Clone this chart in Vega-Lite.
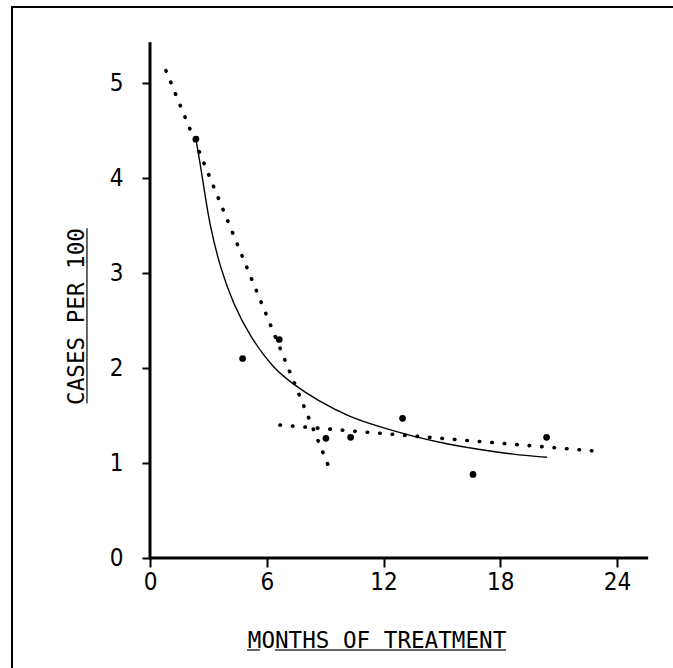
{
  "$schema": "https://vega.github.io/schema/vega-lite/v6.json",
  "width": 690,
  "height": 690,
  "autosize": {"type": "none"},
  "padding": {"left": 12, "top": 7, "right": -29, "bottom": -29},
  "background": "white",
  "config": {
    "view": {"stroke": "black", "strokeWidth": 2, "fill": "white"},
    "axis": {
      "labelFont": "DejaVu Sans Condensed, DejaVu Sans Mono, sans-serif",
      "labelColor": "black",
      "titleFont": "DejaVu Sans Mono",
      "titleColor": "black",
      "titleFontWeight": "normal",
      "tickColor": "black",
      "grid": false,
      "domain": false,
      "labelFlush": false,
      "labelOverlap": false
    }
  },
  "datasets": {
    "axes": [
      {"x": 0, "x2": 25.6, "y": 0, "y2": 0},
      {"x": 0, "x2": 0, "y": 0, "y2": 5.43}
    ],
    "underlines": [
      {"x": 4.985, "x2": 5.65, "y": -0.968, "y2": -0.968},
      {"x": 6.42, "x2": 18.3, "y": -0.968, "y2": -0.968},
      {"x": -3.24, "x2": -3.24, "y": 1.63, "y2": 3.47}
    ],
    "curve": [
      {"x": 2.36, "y": 4.41},
      {"x": 2.57, "y": 4.16},
      {"x": 2.83, "y": 3.82},
      {"x": 3.08, "y": 3.5},
      {"x": 3.6, "y": 3.06},
      {"x": 4.27, "y": 2.68},
      {"x": 5.14, "y": 2.33},
      {"x": 6.32, "y": 2.0},
      {"x": 7.35, "y": 1.83},
      {"x": 8.58, "y": 1.66},
      {"x": 10.28, "y": 1.48},
      {"x": 11.82, "y": 1.38},
      {"x": 13.51, "y": 1.28},
      {"x": 15.26, "y": 1.2},
      {"x": 16.96, "y": 1.14},
      {"x": 18.65, "y": 1.09},
      {"x": 20.4, "y": 1.06}
    ],
    "dotted": [
      {"series": "a", "x": 0.82, "y": 5.13},
      {"series": "a", "x": 9.25, "y": 0.93},
      {"series": "b", "x": 6.68, "y": 1.4},
      {"series": "b", "x": 22.87, "y": 1.126}
    ],
    "points": [
      {"x": 2.36, "y": 4.41},
      {"x": 4.76, "y": 2.1},
      {"x": 6.64, "y": 2.3},
      {"x": 9.04, "y": 1.26},
      {"x": 10.31, "y": 1.27},
      {"x": 12.98, "y": 1.47},
      {"x": 16.6, "y": 0.88},
      {"x": 20.38, "y": 1.27}
    ]
  },
  "encoding": {
    "x": {
      "field": "x",
      "type": "quantitative",
      "scale": {"domain": [-7.092, 28.368], "nice": false, "zero": false},
      "axis": {
        "values": [0, 6, 12, 18, 24],
        "offset": -139,
        "tickSize": 9,
        "tickWidth": 2,
        "labelFontSize": 24,
        "labelPadding": 3,
        "title": "MONTHS OF TREATMENT",
        "titleFontSize": 22.6,
        "titleX": 364.5,
        "titleY": 89,
        "titleAlign": "center",
        "titleBaseline": "alphabetic"
      }
    },
    "y": {
      "field": "y",
      "type": "quantitative",
      "scale": {"domain": [-1.463, 5.8], "nice": false, "zero": false},
      "axis": {
        "values": [0, 1, 2, 3, 4, 5],
        "offset": -138,
        "tickSize": 8,
        "tickWidth": 2,
        "labelFontSize": 24,
        "labelPadding": 19,
        "title": "CASES PER 100",
        "titleFontSize": 22.6,
        "titleAngle": -90,
        "titleX": -67,
        "titleY": 309,
        "titleAlign": "center",
        "titleBaseline": "alphabetic"
      }
    }
  },
  "layer": [
    {
      "data": {"name": "axes"},
      "mark": {"type": "rule", "color": "black", "strokeWidth": 3, "clip": false},
      "encoding": {
        "x2": {"field": "x2"},
        "y2": {"field": "y2"}
      }
    },
    {
      "data": {"name": "underlines"},
      "mark": {"type": "rule", "color": "#333333", "strokeWidth": 1.5, "clip": false},
      "encoding": {
        "x2": {"field": "x2"},
        "y2": {"field": "y2"}
      }
    },
    {
      "data": {"name": "curve"},
      "mark": {"type": "line", "color": "black", "strokeWidth": 1.4, "interpolate": "basis"},
      "encoding": {}
    },
    {
      "data": {"name": "dotted"},
      "mark": {"type": "line", "color": "black", "strokeWidth": 3.6, "strokeCap": "round", "strokeDash": [0.5, 12]},
      "encoding": {"detail": {"field": "series", "type": "nominal"}}
    },
    {
      "data": {"name": "points"},
      "mark": {"type": "point", "filled": true, "shape": "circle", "color": "black", "opacity": 1, "size": 45},
      "encoding": {}
    }
  ]
}
